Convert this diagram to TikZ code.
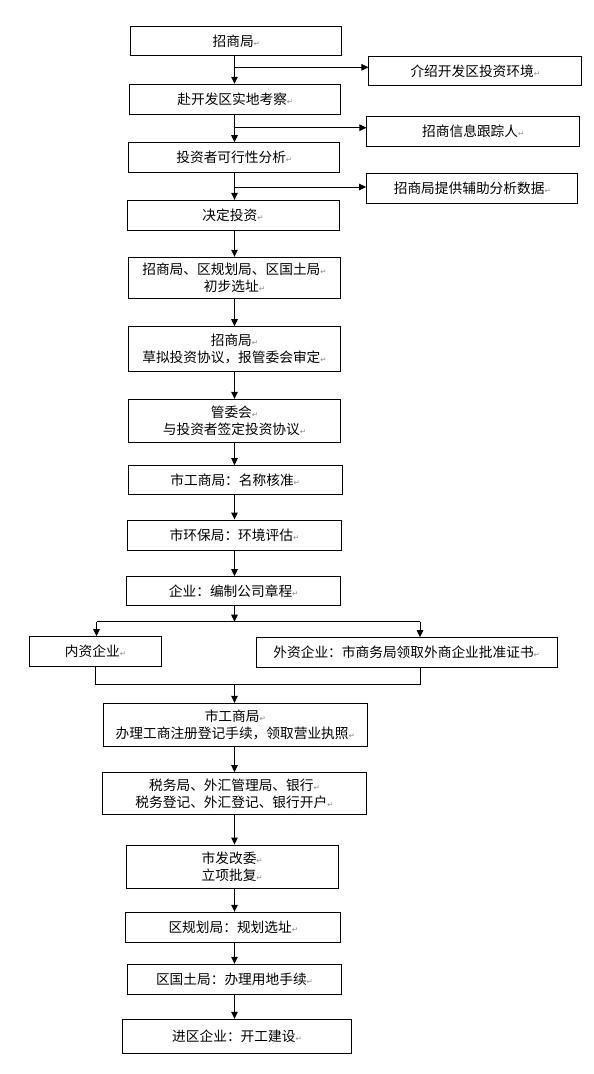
\documentclass[tikz,border=0pt]{standalone}
\usepackage{fontspec}
\setmainfont{Noto Sans CJK SC}
\newfontfamily\symfont{DejaVu Sans}
\usetikzlibrary{arrows.meta}

\definecolor{retgray}{RGB}{140,140,140}
\newcommand{\retmark}{{\symfont\fontsize{7.5}{7.5}\selectfont\color{retgray}↵}}

\tikzset{
  box/.style={draw, line width=1pt, inner sep=0pt, align=center,
    font=\fontsize{13.7}{16.7}\selectfont},
  boxsize/.style 2 args={minimum width=#1pt, minimum height=#2pt},
  flow/.style={line width=1pt, -{Triangle[length=7pt,width=6.5pt]}},
  link/.style={line width=1pt}
}

\begin{document}
\begin{tikzpicture}[x=1pt,y=-1pt]

% Page frame
\path[use as bounding box] (0,0) rectangle (594,1074);

% Main column
\node[box, boxsize={211.3}{29.3}] (zsj) at (236.3,41.3) {招商局\retmark};
\node[box, boxsize={211.3}{30}]   (kc)  at (235.3,99.3) {赴开发区实地考察\retmark};
\node[box, boxsize={211.3}{29.6}] (fx)  at (234.3,157.5) {投资者可行性分析\retmark};
\node[box, boxsize={212}{29.7}]   (jd)  at (233,215.2) {决定投资\retmark};
\node[box, boxsize={212.4}{41}]   (xz)  at (234.5,277.8) {招商局、区规划局、区国土局\retmark\\初步选址\retmark};
\node[box, boxsize={212.4}{45}]   (xy)  at (234.5,349.2) {招商局\retmark\\草拟投资协议，报管委会审定\retmark};
\node[box, boxsize={212.4}{43}]   (qd)  at (234.5,420.8) {管委会\retmark\\与投资者签定投资协议\retmark};
\node[box, boxsize={213.7}{29.3}] (mc)  at (235.2,480.3) {市工商局：名称核准\retmark};
\node[box, boxsize={214.4}{30}]   (hp)  at (234.5,535) {市环保局：环境评估\retmark};
\node[box, boxsize={214}{29.3}]   (zc)  at (233.7,591.3) {企业：编制公司章程\retmark};

% Side boxes
\node[box, boxsize={212.7}{29.3}] (hj) at (475.3,71.3) {介绍开发区投资环境\retmark};
\node[box, boxsize={212.7}{30}]   (gz) at (473.3,131.3) {招商信息跟踪人\retmark};
\node[box, boxsize={211.3}{30}]   (sj) at (472.3,188.3) {招商局提供辅助分析数据\retmark};

% Two branches
\node[box, boxsize={132.4}{30}]   (nz) at (95.5,651.7) {内资企业\retmark};
\node[box, boxsize={301.3}{29.6}] (wz) at (406.7,652.5) {外资企业：市商务局领取外商企业批准证书\retmark};

% Lower column
\node[box, boxsize={264}{42.7}]   (zc2) at (235.3,724.7) {市工商局\retmark\\办理工商注册登记手续，领取营业执照\retmark};
\node[box, boxsize={264.4}{42.3}] (sw)  at (234.5,793.8) {税务局、外汇管理局、银行\retmark\\税务登记、外汇登记、银行开户\retmark};
\node[box, boxsize={212.3}{43.3}] (lx)  at (232.2,866.7) {市发改委\retmark\\立项批复\retmark};
\node[box, boxsize={214.7}{30}]   (gh)  at (233.3,927.3) {区规划局：规划选址\retmark};
\node[box, boxsize={214.4}{30}]   (td)  at (234.5,979.3) {区国土局：办理用地手续\retmark};
\node[box, boxsize={229.4}{34}]   (jz)  at (237,1036.3) {进区企业：开工建设\retmark};

% Spine and junctions
\coordinate (spine) at (234.5,0);
\coordinate (j1) at (234.5,67.3);
\coordinate (j2) at (234.5,127.7);
\coordinate (j3) at (234.5,187);
\coordinate (sl) at (96.5,621.7);
\coordinate (sr) at (420,621.7);
\coordinate (ml) at (95,684);
\coordinate (mr) at (420.5,684);
\coordinate (mc0) at (234.5,684);

% Arrows down the main column
\foreach \a/\b in {zsj/kc, kc/fx, fx/jd, jd/xz, xz/xy, xy/qd, qd/mc, mc/hp, hp/zc,
                   zc2/sw, sw/lx, lx/gh, gh/td, td/jz}
  \draw[flow] (\a.south -| spine) -- (\b.north -| spine);

% Arrows to the side boxes
\draw[flow] (j1) -- (j1 -| hj.west);
\draw[flow] (j2) -- (j2 -| gz.west);
\draw[flow] (j3) -- (j3 -| sj.west);

% Split into two branches
\draw[flow] (zc.south -| spine) -- (spine |- sl);
\draw[link] (sl) -- (sr);
\draw[flow] (sl) -- (sl |- nz.north);
\draw[flow] (sr) -- (sr |- wz.north);

% Join the branches
\draw[link] (ml |- nz.south) -- (ml) -- (mr) -- (mr |- wz.south);
\draw[flow] (mc0) -- (mc0 |- zc2.north);

\end{tikzpicture}
\end{document}
